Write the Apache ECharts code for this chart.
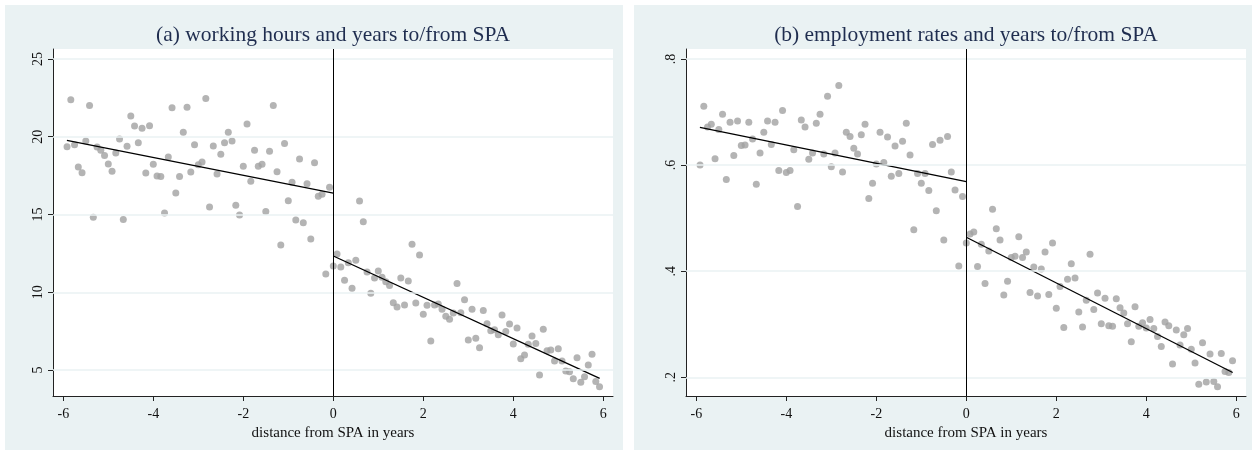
<!DOCTYPE html>
<html><head><meta charset="utf-8">
<script src="https://cdn.jsdelivr.net/npm/echarts@6/dist/echarts.min.js"></script>
<style>html,body{margin:0;padding:0;background:#fff}#c{width:1257px;height:454px}</style>
</head><body><div id="c"></div>
<script>
// months relative to state pension age (bins), converted to years below
const monthsFromSPA = [-71,-70,-69,-68,-67,-66,-65,-64,-63,-62,-61,-60,-59,-58,-57,-56,-55,-54,-53,-52,-51,-50,-49,-48,
 -47,-46,-45,-44,-43,-42,-41,-40,-39,-38,-37,-36,-35,-34,-33,-32,-31,-30,-29,-28,-27,-26,-25,-24,
 -23,-22,-21,-20,-19,-18,-17,-16,-15,-14,-13,-12,-11,-10,-9,-8,-7,-6,-5,-4,-3,-2,-1,
 0,1,2,3,4,5,6,7,8,9,10,11,12,13,14,15,16,17,18,19,20,21,22,23,24,
 25,26,27,28,29,30,31,32,33,34,35,36,37,38,39,40,41,42,43,44,45,46,47,48,
 49,50,51,52,53,54,55,56,57,58,59,60,61,62,63,64,65,66,67,68,69,70,71];

const workingHours = [19.36,22.38,19.49,18.05,17.69,19.73,22.0,14.82,19.34,19.13,18.80,18.25,17.78,18.96,19.86,14.67,
 19.38,21.33,20.69,19.62,20.54,17.67,20.71,18.23,17.48,17.45,15.10,18.70,21.87,16.38,17.45,20.28,21.89,17.73,19.49,
 18.20,18.38,22.45,15.48,19.40,17.60,18.87,19.62,20.28,19.73,15.59,14.97,18.10,20.82,17.13,19.13,18.10,18.23,15.20,
 19.06,22.0,17.75,13.04,19.56,15.89,17.07,14.65,18.57,14.47,16.98,13.42,18.33,16.17,16.30,11.17,16.75,
 11.69,12.46,11.62,10.77,11.90,10.25,12.05,15.87,14.54,11.30,9.93,10.92,11.37,10.96,10.68,10.44,9.33,9.05,10.92,
 9.18,10.72,13.08,9.31,12.40,8.58,9.16,6.87,9.18,9.24,8.90,8.45,8.26,8.67,10.57,8.69,9.52,6.93,8.90,7.04,6.44,8.82,
 7.98,7.53,7.59,7.27,8.54,7.47,7.96,6.67,7.70,5.73,5.96,6.65,7.19,6.71,4.68,7.62,6.24,6.29,5.58,6.37,5.58,4.94,4.89,
 4.44,5.79,4.21,4.57,5.32,6.01,4.27,3.93];

const employmentRates = [.600,.711,.672,.677,.612,.667,.696,.573,.681,.618,.683,.637,.638,.681,.649,.564,.623,.662,
 .683,.639,.681,.590,.703,.586,.590,.629,.522,.685,.672,.611,.623,.679,.696,.621,.730,.597,.623,.750,.587,.662,.654,
 .632,.621,.657,.677,.537,.566,.602,.662,.605,.653,.579,.636,.584,.645,.679,.619,.478,.584,.566,.584,.552,.639,.514,
 .647,.459,.654,.587,.553,.410,.541,
 .453,.470,.474,.409,.451,.377,.438,.517,.480,.459,.355,.381,.426,.428,.465,.426,.436,.360,.408,.353,.404,.436,.356,
 .453,.330,.371,.294,.385,.414,.387,.323,.295,.345,.432,.328,.359,.301,.349,.297,.296,.348,.331,.321,.301,.267,.333,
 .296,.303,.293,.309,.292,.277,.258,.304,.297,.225,.289,.261,.280,.292,.253,.227,.187,.265,.191,.244,.192,.182,.245,
 .211,.209,.231];

// linear fits (endpoints, years)
const fitBeforeX = [-5.92, 0];
const fitAfterX = [0, 5.92];
const hoursFitBefore = [19.77, 16.37];
const hoursFitAfter = [12.33, 4.46];
const empFitBefore = [0.671, 0.569];
const empFitAfter = [0.464, 0.209];

const xTicks = [-6,-4,-2,0,2,4,6];
const hoursTicks = [5,10,15,20,25];
const empTicks = [0.2,0.4,0.6,0.8];

const titles = ['(a) working hours and years to/from SPA', '(b) employment rates and years to/from SPA'];
const xTitle = 'distance from SPA in years';

const FONT = '"Liberation Serif", "DejaVu Serif", serif';
const BG = '#eaf2f3';
const years = monthsFromSPA.map(m => m / 12);

const panels = [
  {left: 53, ys: workingHours, fb: hoursFitBefore, fa: hoursFitAfter, ticks: hoursTicks, min: 3.33, max: 25.64, fmt: v => String(v)},
  {left: 686, ys: employmentRates, fb: empFitBefore, fa: empFitAfter, ticks: empTicks, min: 0.1647, max: 0.8189,
   fmt: v => String(Math.round(v*10)/10).replace(/^0\./, '.')}
];
const GW = 560, GT = 49, GH = 347;

const grid = [], xAxis = [], yAxis = [], series = [];
panels.forEach((p, i) => {
  grid.push({left: p.left, top: GT, width: GW, height: GH, show: true, backgroundColor: '#ffffff', borderWidth: 0});
  xAxis.push({
    type: 'value', gridIndex: i, min: -6.229, max: 6.216,
    axisLine: {show: true, onZero: false, lineStyle: {color: '#222', width: 1}},
    axisTick: {show: true, length: 5, customValues: xTicks, lineStyle: {color: '#222'}},
    axisLabel: {customValues: xTicks, color: '#111', fontFamily: FONT, fontSize: 14, margin: 11},
    splitLine: {show: false},
    name: xTitle, nameLocation: 'middle', nameGap: 25,
    nameTextStyle: {color: '#111', fontFamily: FONT, fontSize: 15}
  });
  yAxis.push({
    type: 'value', gridIndex: i, min: p.min, max: p.max,
    axisLine: {show: true, onZero: false, lineStyle: {color: '#222', width: 1}},
    axisTick: {show: true, length: 5, customValues: p.ticks, lineStyle: {color: '#222'}},
    axisLabel: {customValues: p.ticks, rotate: 90, color: '#111', fontFamily: FONT, fontSize: 14, margin: 8, formatter: p.fmt},
    splitLine: {show: false}
  });
  // grid lines and the cutoff line
  series.push({
    type: 'line', xAxisIndex: i, yAxisIndex: i, data: [], z: 1, silent: true,
    markLine: {silent: true, symbol: ['none','none'], label: {show: false}, animation: false,
      lineStyle: {color: BG, width: 1.5, type: 'solid'},
      data: p.ticks.map(v => ({yAxis: v}))}
  });
  series.push({
    type: 'scatter', xAxisIndex: i, yAxisIndex: i, z: 3, symbolSize: 7, animation: false,
    itemStyle: {color: '#a1a1a1'},
    data: years.map((x, j) => [x, p.ys[j]])
  });
  series.push({
    type: 'line', xAxisIndex: i, yAxisIndex: i, z: 4, symbol: 'none', animation: false,
    lineStyle: {color: '#000', width: 1.3},
    data: fitBeforeX.map((x, j) => [x, p.fb[j]]),
    markLine: {silent: true, symbol: ['none','none'], label: {show: false}, animation: false,
      lineStyle: {color: '#000', width: 1, type: 'solid'}, data: [{xAxis: 0}]}
  });
  series.push({
    type: 'line', xAxisIndex: i, yAxisIndex: i, z: 4, symbol: 'none', animation: false,
    lineStyle: {color: '#000', width: 1.3},
    data: fitAfterX.map((x, j) => [x, p.fa[j]])
  });
});

const chart = echarts.init(document.getElementById('c'), null, {renderer: 'canvas'});
chart.setOption({
  backgroundColor: '#ffffff',
  animation: false,
  graphic: [
    {type: 'rect', shape: {x: 5, y: 5, width: 618, height: 445}, style: {fill: BG}, z: -10, silent: true},
    {type: 'rect', shape: {x: 634, y: 5, width: 618, height: 445}, style: {fill: BG}, z: -10, silent: true},
    {type: 'text', x: 333, y: 35, style: {text: titles[0], fill: '#1f2d4f', font: '21.5px ' + FONT, textAlign: 'center', textVerticalAlign: 'middle'}, z: 10},
    {type: 'text', x: 966, y: 35, style: {text: titles[1], fill: '#1f2d4f', font: '21.5px ' + FONT, textAlign: 'center', textVerticalAlign: 'middle'}, z: 10}
  ],
  grid, xAxis, yAxis, series
});
</script>
</body></html>
